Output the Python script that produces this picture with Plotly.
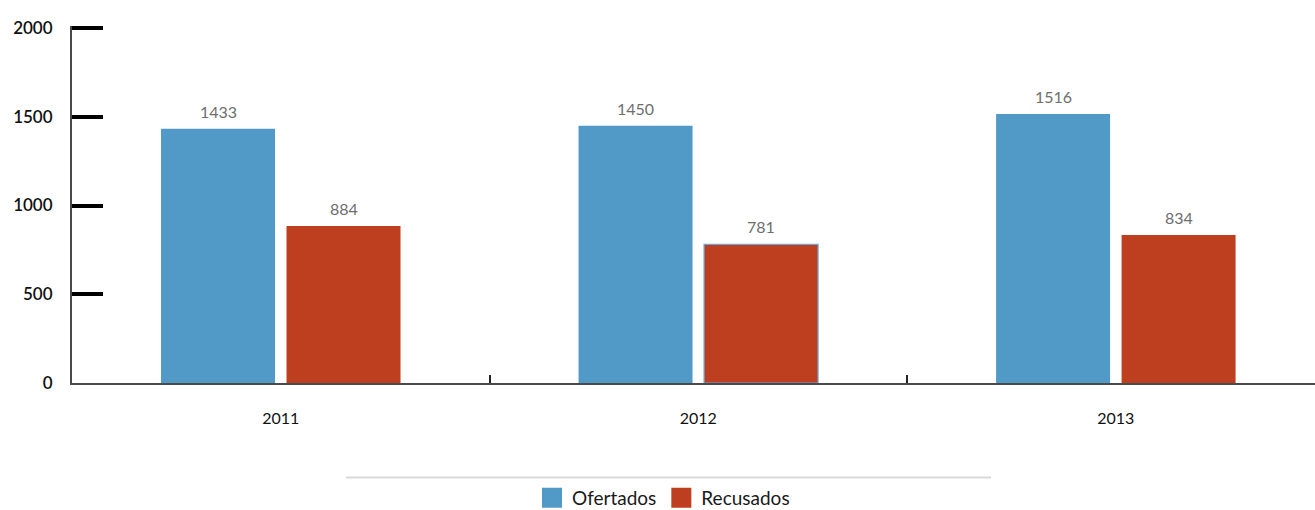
import plotly.graph_objects as go

years = ["2011", "2012", "2013"]
ofertados = [1433, 1450, 1516]
recusados = [884, 781, 834]
y_ticks = [0, 500, 1000, 1500, 2000]
series_names = ["Ofertados", "Recusados"]

BLUE = "#5199c6"
RED = "#bd3f1f"
FONT = "Lato"

# bar geometry in category units
bar_w = 0.273
slot = 0.3006

fig = go.Figure()
fig.add_trace(go.Bar(
    name=series_names[0], x=years, y=ofertados, marker_color=BLUE,
    width=bar_w, offset=-slot / 2 - bar_w / 2, marker_line_width=0,
    showlegend=False,
))
fig.add_trace(go.Bar(
    name=series_names[1], x=years, y=recusados, marker_color=RED,
    width=bar_w, offset=slot / 2 - bar_w / 2,
    marker_line=dict(width=[0, 1.2, 0], color="#6aa8d8"),
    showlegend=False,
))

# legend entries with large square swatches
for name, color in zip(series_names, (BLUE, RED)):
    fig.add_trace(go.Scatter(
        x=[None], y=[None], mode="markers", name=name,
        marker=dict(symbol="square", size=16, color=color,
                    line=dict(width=4, color=color)),
    ))

# value labels above each bar
for i, (o, r) in enumerate(zip(ofertados, recusados)):
    for val, dx in ((o, -slot / 2), (r, slot / 2)):
        fig.add_annotation(
            x=i + dx, y=val, xref="x", yref="y", text=str(val),
            showarrow=False, yanchor="bottom", yshift=6,
            font=dict(family=FONT, size=16, color="#6e6e6e"),
        )

# thin separator above the legend
PLOT_H = 357
fig.add_shape(type="line", xref="paper", yref="paper",
              x0=(346 - 72) / 1243, x1=(991 - 72) / 1243,
              y0=-94.5 / PLOT_H, y1=-94.5 / PLOT_H,
              line=dict(color="#d9d9d9", width=2))

fig.update_layout(
    width=1315, height=510,
    margin=dict(l=72, r=0, t=26, b=127, autoexpand=False),
    plot_bgcolor="white", paper_bgcolor="white",
    barmode="group",
    showlegend=True,
    legend=dict(orientation="h", x=(532 - 72) / 1243, xanchor="left",
                y=-115 / PLOT_H, yanchor="middle",
                font=dict(family=FONT, size=19, color="#1a1a1a"),
                itemsizing="trace", traceorder="normal",
                bgcolor="rgba(0,0,0,0)"),
    font=dict(family=FONT),
)
fig.update_xaxes(
    type="category", range=[-0.5, 2.477],
    showline=True, linecolor="#4a4a4a", linewidth=2,
    ticks="inside", tickson="boundaries", ticklen=8, tickwidth=1.5, tickcolor="#222",
    ticklabelstandoff=20,
    tickfont=dict(family=FONT, size=16, color="#111"),
    showgrid=False, zeroline=False, fixedrange=True,
)
fig.update_yaxes(
    range=[0, 2011.3], tickvals=y_ticks,
    showline=True, linecolor="#4a4a4a", linewidth=2,
    ticks="inside", ticklen=31, tickwidth=3.5, tickcolor="#000",
    ticklabelstandoff=14,
    tickfont=dict(family=FONT, size=17, color="#111", weight=600),
    showgrid=False, zeroline=False,
)

fig.write_html("out.html")
